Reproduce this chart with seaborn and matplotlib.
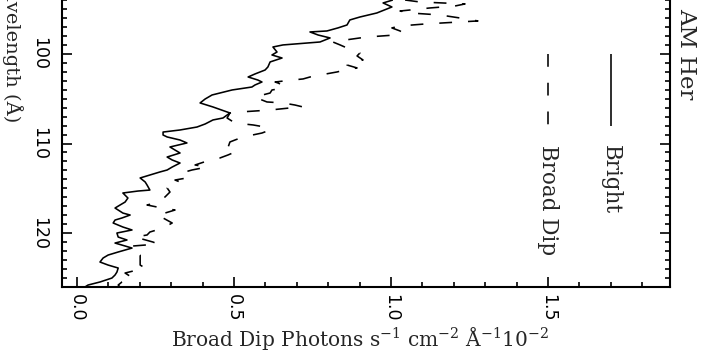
import matplotlib
matplotlib.use("Agg")
import matplotlib.pyplot as plt
import pandas as pd
import seaborn as sns
from matplotlib.ticker import MultipleLocator

# AM Her spectrum: bright phase (solid) vs broad dip (dashed)
wave_bright = [93.97, 94.30, 94.75, 95.42, 95.87, 96.20, 96.76, 97.09, 97.43, 97.54,
               97.88, 98.21, 98.66, 98.99, 99.22, 99.78, 100.11, 100.45, 100.89, 101.45,
               101.79, 102.23, 102.57, 102.91, 103.13, 103.46, 103.69, 104.02, 104.58, 105.03,
               105.47, 105.92, 106.59, 107.15, 107.37, 107.82, 108.16, 108.49, 108.72, 109.05,
               109.27, 109.61, 109.94, 110.39, 110.73, 111.06, 111.51, 111.84, 112.18, 112.63,
               112.96, 113.18, 113.52, 113.85, 114.30, 114.64, 115.20, 115.31, 115.53, 116.09,
               116.54, 116.87, 117.21, 117.77, 117.99, 118.32, 118.55, 118.88, 119.33, 119.66,
               120.00, 120.45, 120.78, 121.12, 121.45, 121.68, 122.12, 122.46, 122.79, 123.24,
               123.58, 123.91, 124.36, 124.69, 125.03, 125.47, 125.81, 126.03]
flux_bright = [1.006, 0.975, 1.003, 0.955, 0.901, 0.869, 0.860, 0.831, 0.796, 0.742,
               0.768, 0.806, 0.774, 0.656, 0.624, 0.637, 0.621, 0.653, 0.615, 0.608,
               0.599, 0.567, 0.545, 0.576, 0.589, 0.567, 0.557, 0.494, 0.430, 0.408,
               0.392, 0.433, 0.487, 0.465, 0.433, 0.408, 0.382, 0.328, 0.274, 0.274,
               0.287, 0.328, 0.350, 0.296, 0.312, 0.328, 0.287, 0.303, 0.328, 0.303,
               0.287, 0.264, 0.232, 0.201, 0.217, 0.223, 0.232, 0.194, 0.146, 0.162,
               0.153, 0.137, 0.121, 0.146, 0.169, 0.143, 0.121, 0.115, 0.146, 0.175,
               0.127, 0.131, 0.159, 0.121, 0.153, 0.175, 0.131, 0.099, 0.083, 0.073,
               0.099, 0.131, 0.127, 0.121, 0.111, 0.073, 0.035, 0.025]

wave_dip = [93.97, 94.19, 94.41, 94.64, 94.86, 95.20, 95.42, 95.64, 95.98, 96.31,
            96.42, 96.65, 96.87, 97.09, 97.43, 97.65, 97.88, 98.10, 98.21, 98.44,
            98.66, 98.99, 99.33, 99.89, 100.22, 100.67, 100.89, 101.23, 101.56, 101.79,
            102.01, 102.35, 102.57, 102.79, 102.91, 103.13, 103.24, 103.58, 103.91, 104.02,
            104.36, 104.80, 105.14, 105.36, 105.47, 105.70, 105.92, 106.03, 106.26, 106.37,
            106.48, 106.59, 107.15, 107.71, 107.93, 108.16, 108.49, 108.83, 109.27, 109.61,
            109.83, 110.73, 110.95, 111.28, 111.62, 111.84, 112.40, 112.63, 112.96, 113.18,
            113.52, 113.85, 114.08, 114.30, 114.64, 114.97, 115.42, 115.98, 116.65, 116.87,
            117.21, 117.43, 117.77, 118.21, 118.32, 118.88, 119.44, 119.89, 120.22, 120.45,
            121.01, 121.23, 121.45, 121.56, 122.46, 123.58, 123.91, 124.47, 125.03, 125.47,
            125.81, 126.03]
flux_dip = [1.045, 1.092, 1.236, 1.204, 1.124, 1.029, 1.061, 1.156, 1.220, 1.277,
            1.220, 1.108, 1.029, 1.003, 1.029, 1.038, 1.013, 0.927, 0.901, 0.854,
            0.815, 0.838, 0.860, 0.901, 0.892, 0.911, 0.869, 0.860, 0.892, 0.854,
            0.828, 0.774, 0.742, 0.720, 0.685, 0.631, 0.640, 0.662, 0.640, 0.621,
            0.615, 0.567, 0.589, 0.605, 0.656, 0.694, 0.720, 0.678, 0.615, 0.567,
            0.519, 0.487, 0.478, 0.503, 0.561, 0.599, 0.615, 0.589, 0.529, 0.503,
            0.487, 0.478, 0.503, 0.481, 0.455, 0.424, 0.376, 0.414, 0.366, 0.344,
            0.360, 0.350, 0.312, 0.328, 0.296, 0.287, 0.296, 0.280, 0.248, 0.223,
            0.271, 0.312, 0.280, 0.255, 0.274, 0.303, 0.274, 0.232, 0.223, 0.185,
            0.242, 0.258, 0.178, 0.169, 0.201, 0.201, 0.217, 0.153, 0.178, 0.143,
            0.131, 0.137]

series_labels = ["Bright", "Broad Dip"]
x_label = r"Broad Dip Photons s$^{-1}$ cm$^{-2}$ Å$^{-1}$10$^{-2}$"
y_label = "Wavelength (Å)"
object_name = "AM Her"

sns.set_style("ticks")
plt.rcParams.update({
    "font.family": ["DejaVu Sans"],
    "mathtext.fontset": "dejavuserif",
    "axes.linewidth": 1.5,
    "axes.edgecolor": "black",
    "lines.solid_capstyle": "butt",
})

SERIF = ["DejaVu Serif"]
dash_style = (0, (8, 10))

fig = plt.figure(figsize=(7.17, 3.58), dpi=100)
ax = fig.add_axes([62 / 717, 71 / 358, 608 / 717, 287 / 358])

bright = pd.DataFrame({"wavelength": wave_bright, "flux": flux_bright})
dip = pd.DataFrame({"wavelength": wave_dip, "flux": flux_dip})

sns.lineplot(data=bright, x="flux", y="wavelength", orient="y", sort=False,
             estimator=None, color="black", lw=1.15, ax=ax)
sns.lineplot(data=dip, x="flux", y="wavelength", orient="y", sort=False,
             estimator=None, color="black", lw=1.15, linestyle=dash_style, ax=ax)

ax.set_xlim(-0.048, 1.889)
ax.set_ylim(126.03, 93.97)

# legend keys drawn inside the plot area
key_x = [1.70, 1.50]
key_y = [100.0, 108.0]
key_styles = ["-", dash_style]
for kx, ls, lab in zip(key_x, key_styles, series_labels):
    ax.plot([kx, kx], key_y, color="black", lw=1.15, linestyle=ls)
    ax.text(kx, 110.2, lab, rotation=-90, ha="center", va="top",
            family=SERIF, fontsize=15.5)

ax.text(1.94, 94.85, object_name, rotation=-90, ha="center", va="top",
        family=SERIF, fontsize=16.5, clip_on=False)

ax.xaxis.set_major_locator(MultipleLocator(0.5))
ax.xaxis.set_minor_locator(MultipleLocator(0.1))
ax.yaxis.set_major_locator(MultipleLocator(10))
ax.yaxis.set_minor_locator(MultipleLocator(1))
ax.xaxis.set_major_formatter(matplotlib.ticker.FormatStrFormatter("%.1f"))

ax.tick_params(which="both", direction="in", right=True, top=False, width=1.2,
               colors="black")
ax.tick_params(which="major", length=7)
ax.tick_params(which="minor", length=3.5)
ax.tick_params(axis="x", labelrotation=-90, labelsize=12.5, pad=5)
ax.tick_params(axis="y", labelrotation=-90, labelsize=12.5, pad=10)
for t in ax.get_yticklabels():
    t.set_va("center")

ax.spines["top"].set_visible(False)

ax.set_xlabel(x_label, family=SERIF, fontsize=14.5, va="center")
ax.xaxis.set_label_coords(0.49, -0.18)
ax.set_ylabel("")
fig.text(12 / 717, 1 - 122 / 358, y_label, rotation=-90, ha="center", va="bottom",
         family=SERIF, fontsize=14)

fig.savefig("out.png", dpi=100, facecolor="white")
